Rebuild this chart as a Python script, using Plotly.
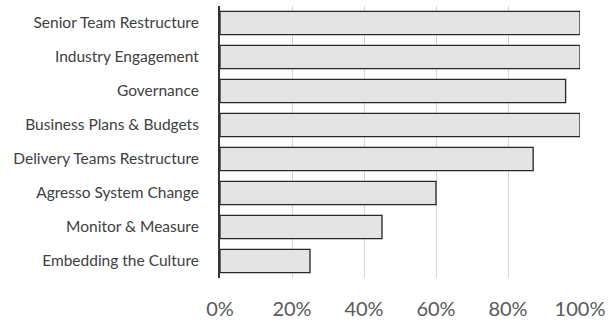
import plotly.graph_objects as go

categories = ["Senior Team Restructure", "Industry Engagement", "Governance",
              "Business Plans & Budgets", "Delivery Teams Restructure",
              "Agresso System Change", "Monitor & Measure", "Embedding the Culture"]
values = [100, 100, 96, 100, 87, 60, 45, 25]
tick_vals = [0, 20, 40, 60, 80, 100]
tick_text = ["0%", "20%", "40%", "60%", "80%", "100%"]

fig = go.Figure(go.Bar(
    x=values, y=categories, orientation="h",
    marker=dict(color="#e4e4e4", line=dict(color="#262626", width=1.3)),
    width=0.68,
))

fig.update_layout(
    width=610, height=320,
    margin=dict(l=220, r=30, t=6, b=42),
    paper_bgcolor="white", plot_bgcolor="white",
    showlegend=False,
    font=dict(family="Lato, Open Sans, sans-serif", color="#404040"),
)
fig.update_xaxes(
    range=[0, 100], tickvals=tick_vals, ticktext=tick_text,
    showgrid=True, gridcolor="#d4d4d4", gridwidth=1,
    zeroline=False, showline=False, ticks="",
    tickfont=dict(size=20, color="#595959"),
    ticklabelstandoff=17, automargin=False,
)
fig.update_yaxes(
    autorange="reversed", showgrid=False, zeroline=False,
    showline=True, linecolor="#333333", linewidth=2,
    ticks="", ticklabelstandoff=16, automargin=False,
    tickfont=dict(size=15.5, color="#404040"),
)
fig.write_html("out.html", config={"displayModeBar": False},
               post_script="document.body.style.margin='0';document.body.style.overflow='hidden';")
